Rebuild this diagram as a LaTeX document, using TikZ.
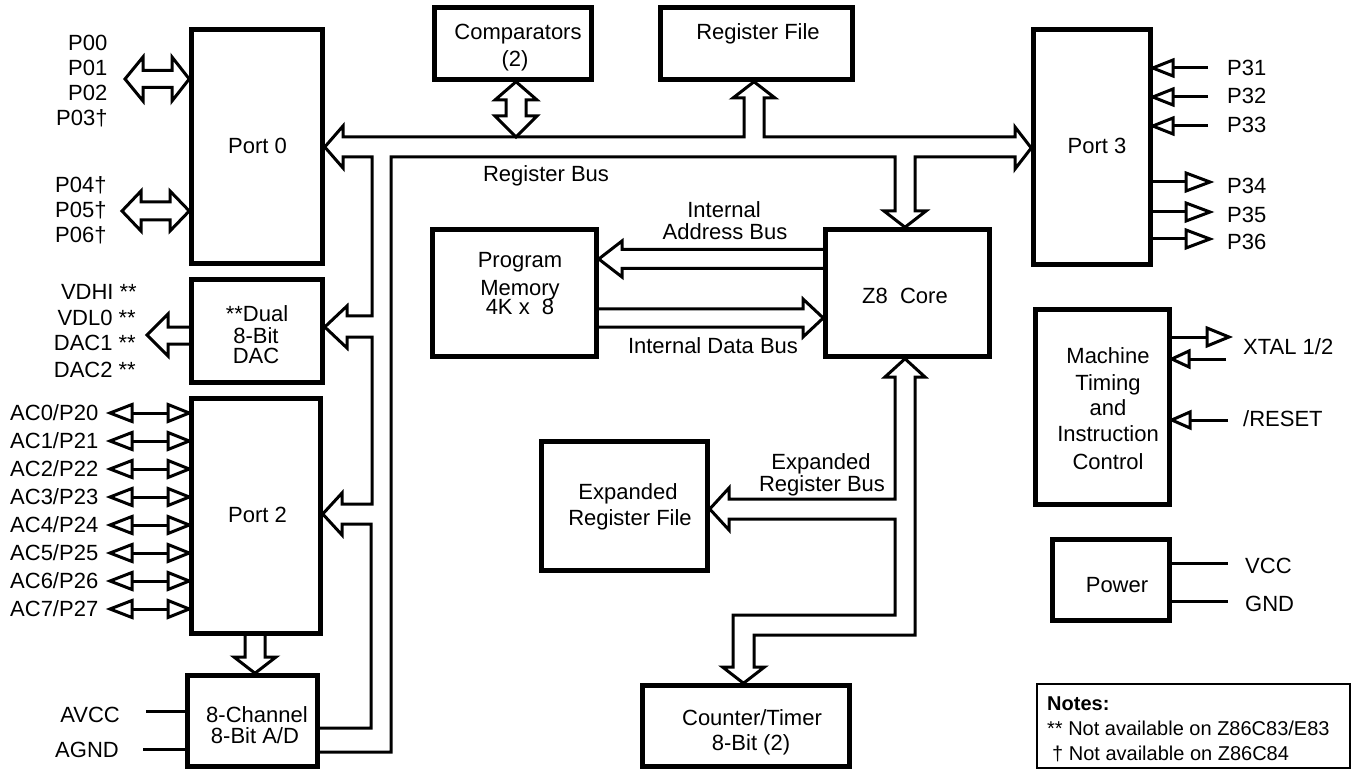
\documentclass[tikz,border=0pt]{standalone}
\usepackage{fontspec}
\setmainfont{Liberation Sans}
\begin{document}
\begin{tikzpicture}[x=1pt,y=-1pt,
  box/.style={draw,line width=4.5pt,fill=white,inner sep=0pt},
  bus/.style={line width=3pt,line join=miter},
  pin/.style={line width=3pt},
  txt/.style={font=\fontsize{22}{26}\selectfont,inner sep=0pt},
  ntxt/.style={font=\fontsize{20}{24}\selectfont,inner sep=0pt}]
\fill[white] (0,0) rectangle (1353,770);
\useasboundingbox (0,0) rectangle (1353,770);

% ---------- boxes (positions) ----------
\path
 node[box,minimum width=131pt,minimum height=234pt] (port0) at (257,146.5) {}
 node[box,minimum width=157pt,minimum height=72pt] (comp) at (513,43.5) {}
 node[box,minimum width=192pt,minimum height=72pt] (regfile) at (756.5,43.5) {}
 node[box,minimum width=117pt,minimum height=235pt] (port3) at (1092,147) {}
 node[box,minimum width=131pt,minimum height=103pt] (dac) at (257,331) {}
 node[box,minimum width=129pt,minimum height=235pt] (port2) at (256,516) {}
 node[box,minimum width=130pt,minimum height=91pt] (adc) at (252.5,721) {}
 node[box,minimum width=164pt,minimum height=127pt] (pmem) at (514.5,293) {}
 node[box,minimum width=164pt,minimum height=127pt] (core) at (907.5,293) {}
 node[box,minimum width=166pt,minimum height=129pt] (erf) at (624.5,506) {}
 node[box,minimum width=207pt,minimum height=81pt] (ctr) at (746,726) {}
 node[box,minimum width=134pt,minimum height=195pt] (mtic) at (1102.5,407) {}
 node[box,minimum width=117pt,minimum height=81pt] (power) at (1111,580) {}
 node[draw,line width=2pt,inner sep=0pt,minimum width=313pt,minimum height=84pt] (notes) at (1193.5,726) {};

% ---------- buses ----------
% Register bus (tree)
\draw[bus] (adc.east |- 0,728) -- (371,728) -- (371,524) -- (342,524) -- (342,535)
  -- (port2.east |- 0,514) -- (342,493) -- (342,504) -- (372,504) -- (372,337)
  -- (347,337) -- (347,348) -- (dac.east |- 0,327) -- (347,306) -- (347,316)
  -- (372,316) -- (372,157) -- (343,157) -- (343,168) -- (port0.east |- 0,147)
  -- (343,126) -- (343,137) -- (744,137) -- (744,98) -- (733,98)
  -- (regfile.south -| 754,0) -- (775,98) -- (764,98) -- (764,137) -- (1015,137)
  -- (1015,127) -- (port3.west |- 0,148) -- (1015,169) -- (1015,157) -- (915,157)
  -- (915,211) -- (926,211) -- (core.north -| 905,0) -- (884,211) -- (895,211)
  -- (895,157) -- (391,157) -- (391,752) -- (adc.east |- 0,752);
% Comparators double arrow
\draw[bus] (506,100) -- (495,100) -- (comp.south -| 516,0) -- (537,100) -- (526,100)
  -- (526,116) -- (537,116) -- (516,137) -- (495,116) -- (506,116) -- cycle;
% Internal address bus
\draw[bus] (core.west |- 0,249.5) -- (622,249.5) -- (622,241) -- (pmem.east |- 0,259)
  -- (622,277) -- (622,268.5) -- (core.west |- 0,268.5);
% Internal data bus
\draw[bus] (pmem.east |- 0,309) -- (803,309) -- (803,299) -- (core.west |- 0,318)
  -- (803,337) -- (803,327) -- (pmem.east |- 0,327);
% Expanded register bus
\draw[bus] (729,499) -- (895,499) -- (895,377) -- (885,377) -- (core.south -| 905,0)
  -- (925,377) -- (915,377) -- (915,635) -- (754,635) -- (754,667) -- (764.5,667)
  -- (ctr.north -| 743.5,0) -- (722.5,667) -- (733,667) -- (733,615) -- (895,615)
  -- (895,519) -- (729,519) -- (729,530) -- (erf.east |- 0,509) -- (729,488) -- cycle;
% Port 2 -> A/D
\draw[bus] (port2.south -| 245,0) -- (245,657) -- (234,657) -- (adc.north -| 255,0)
  -- (276,657) -- (265,657) -- (port2.south -| 265,0);
% Port 0 pin buses
\draw[bus] (143,70.5) -- (172,70.5) -- (172,57) -- (port0.west |- 0,79) -- (172,101)
  -- (172,87.5) -- (143,87.5) -- (143,101) -- (125,79) -- (143,57) -- cycle;
\draw[bus] (141,202) -- (170,202) -- (170,191) -- (port0.west |- 0,211) -- (170,231)
  -- (170,220) -- (141,220) -- (141,231) -- (122,211) -- (141,191) -- cycle;
% DAC output bus
\draw[bus] (dac.west |- 0,327) -- (168,327) -- (168,314) -- (147,335) -- (168,356)
  -- (168,344) -- (dac.west |- 0,344);

% ---------- pins ----------
\foreach \i in {0,...,7}{
  \pgfmathsetmacro\yy{413+28*\i}
  \draw[pin] (132,\yy) -- (168,\yy);
  \draw[pin] (132,{\yy-8.5}) -- (110,\yy) -- (132,{\yy+8.5}) -- cycle;
  \draw[pin] (168,{\yy-8.5}) -- (port2.west |- 0,\yy) -- (168,{\yy+8.5}) -- cycle;
  \node[txt,anchor=base west] (ac\i) at (10,{\yy+7}) {AC\i/P2\i};
}
\foreach \yy/\n in {68/1,97/2,126/3}{
  \draw[pin] (1208,\yy) -- (1173,\yy);
  \draw[pin] (1173,{\yy-8}) -- (port3.east |- 0,\yy) -- (1173,{\yy+8}) -- cycle;
}
\foreach \yy/\n in {182/4,212/5,239/6}{
  \draw[pin] (port3.east |- 0,\yy) -- (1186,\yy);
  \draw[pin] (1186,{\yy-9}) -- (1210,\yy) -- (1186,{\yy+9}) -- cycle;
}
\draw[pin] (mtic.east |- 0,337) -- (1207,337);
\draw[pin] (1207,328) -- (1229,337) -- (1207,346) -- cycle;
\draw[pin] (1226,359) -- (1189,359);
\draw[pin] (1189,351) -- (mtic.east |- 0,359) -- (1189,367) -- cycle;
\draw[pin] (1228,420) -- (1190,420);
\draw[pin] (1190,412) -- (mtic.east |- 0,420) -- (1190,428) -- cycle;
\draw[pin] (power.east |- 0,563) -- (1228,563);
\draw[pin] (power.east |- 0,601) -- (1228,601);
\draw[pin] (146,711) -- (adc.west |- 0,711);
\draw[pin] (143,749) -- (adc.west |- 0,749);

% redraw boxes on top so that arrow tips meet the borders cleanly
\path
 node[box,minimum width=131pt,minimum height=234pt] at (port0.center) {}
 node[box,minimum width=117pt,minimum height=235pt] at (port3.center) {}
 node[box,minimum width=131pt,minimum height=103pt] at (dac.center) {}
 node[box,minimum width=129pt,minimum height=235pt] at (port2.center) {}
 node[box,minimum width=130pt,minimum height=91pt] at (adc.center) {}
 node[box,minimum width=164pt,minimum height=127pt] at (pmem.center) {}
 node[box,minimum width=164pt,minimum height=127pt] at (core.center) {}
 node[box,minimum width=166pt,minimum height=129pt] at (erf.center) {}
 node[box,minimum width=207pt,minimum height=81pt] at (ctr.center) {}
 node[box,minimum width=134pt,minimum height=195pt] at (mtic.center) {}
 node[box,minimum width=157pt,minimum height=72pt] at (comp.center) {}
 node[box,minimum width=192pt,minimum height=72pt] at (regfile.center) {};

% ---------- texts ----------
\node[txt,anchor=base] (tport0) at (257.5,154) {Port 0};
\node[txt,anchor=base] (tport3) at (1097,154) {Port 3};
\node[txt,anchor=base] (tport2) at (257.5,522) {Port 2};
\node[txt,anchor=base] (tcomp1) at (518,40) {Comparators};
\node[txt,anchor=base] (tcomp2) at (515,67) {(2)};
\node[txt,anchor=base] (treg) at (758,40) {Register File};
\node[txt,anchor=base] (tbus) at (546,182) {Register Bus};
\node[txt,anchor=base] (tdac1) at (257,322) {**Dual};
\node[txt,anchor=base] (tdac2) at (256,343) {8-Bit};
\node[txt,anchor=base] (tdac3) at (256,363) {DAC};
\node[txt,anchor=base] (tadc1) at (257,722) {8-Channel};
\node[txt,anchor=base] (tadc2) at (255,743) {8-Bit A/D};
\node[txt,anchor=base] (tpm1) at (520,268) {Program};
\node[txt,anchor=base] (tpm2) at (520,295) {Memory};
\node[txt,anchor=base] (tpm3) at (520,315) {4K x~ 8};
\node[txt,anchor=base] (tcore) at (905,304) {Z8~ Core};
\node[txt,anchor=base] (tiab1) at (724,218) {Internal};
\node[txt,anchor=base] (tiab2) at (725,240) {Address Bus};
\node[txt,anchor=base] (tidb) at (713,353) {Internal Data Bus};
\node[txt,anchor=base] (terf1) at (628,499) {Expanded};
\node[txt,anchor=base] (terf2) at (630,525) {Register File};
\node[txt,anchor=base] (terb1) at (821,469) {Expanded};
\node[txt,anchor=base] (terb2) at (822,491) {Register Bus};
\node[txt,anchor=base] (tctr1) at (752,725) {Counter/Timer};
\node[txt,anchor=base] (tctr2) at (751,750) {8-Bit (2)};
\node[txt,anchor=base] (tm1) at (1108,363) {Machine};
\node[txt,anchor=base] (tm2) at (1108,390) {Timing};
\node[txt,anchor=base] (tm3) at (1108,415) {and};
\node[txt,anchor=base] (tm4) at (1108,441) {Instruction};
\node[txt,anchor=base] (tm5) at (1108,469) {Control};
\node[txt,anchor=base] (tpow) at (1117,592) {Power};

\node[txt,anchor=base west] (p00) at (68,51) {P00};
\node[txt,anchor=base west] (p01) at (68,76) {P01};
\node[txt,anchor=base west] (p02) at (68,101) {P02};
\node[txt,anchor=base west] (p03) at (56,126) {P03†};
\node[txt,anchor=base west] (p04) at (55,193) {P04†};
\node[txt,anchor=base west] (p05) at (55,218) {P05†};
\node[txt,anchor=base west] (p06) at (55,243) {P06†};
\node[txt,anchor=base east] (vdhi) at (137,299) {VDHI **};
\node[txt,anchor=base east] (vdl0) at (136,325) {VDL0 **};
\node[txt,anchor=base east] (dac1) at (136,350) {DAC1 **};
\node[txt,anchor=base east] (dac2) at (136,377) {DAC2 **};
\node[txt,anchor=base east] (avcc) at (120,722) {AVCC};
\node[txt,anchor=base east] (agnd) at (119,757) {AGND};
\node[txt,anchor=base west] (p31) at (1227,76) {P31};
\node[txt,anchor=base west] (p32) at (1227,104) {P32};
\node[txt,anchor=base west] (p33) at (1227,133) {P33};
\node[txt,anchor=base west] (p34) at (1227,194) {P34};
\node[txt,anchor=base west] (p35) at (1227,223) {P35};
\node[txt,anchor=base west] (p36) at (1227,250) {P36};
\node[txt,anchor=base west] (xtal) at (1243,354) {XTAL 1/2};
\node[txt,anchor=base west] (reset) at (1243,426) {/RESET};
\node[txt,anchor=base west] (vcc) at (1245,573) {VCC};
\node[txt,anchor=base west] (gnd) at (1245,611) {GND};

\node[ntxt,anchor=base west,font=\fontsize{20}{24}\selectfont\bfseries] (n0) at (1047,710) {Notes:};
\node[ntxt,anchor=base west] (n1) at (1047,735) {** Not available on Z86C83/E83};
\node[ntxt,anchor=base west] (n2) at (1052,760) {† Not available on Z86C84};
\end{tikzpicture}
\end{document}
